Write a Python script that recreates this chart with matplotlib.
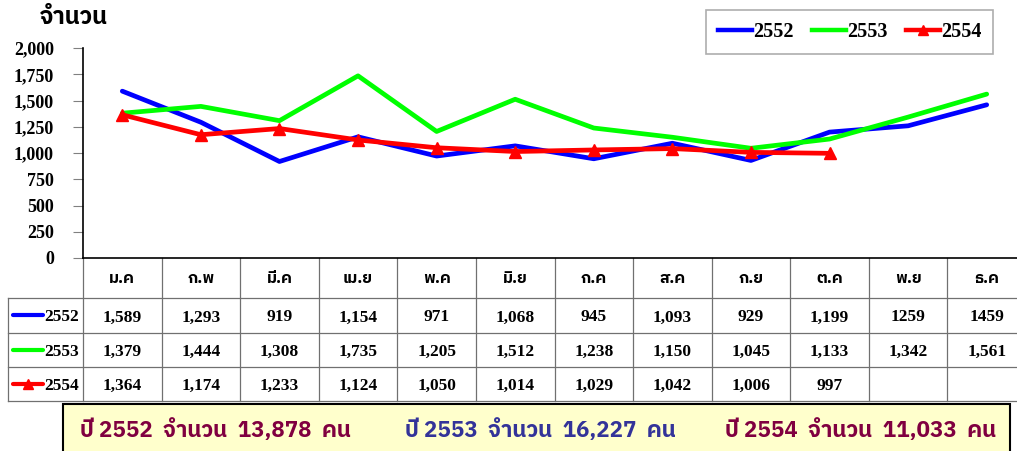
import matplotlib
matplotlib.use("Agg")
import matplotlib.pyplot as plt
import matplotlib.transforms as mtransforms
from matplotlib.lines import Line2D
from matplotlib.patches import Rectangle
from matplotlib import font_manager
from matplotlib.ft2font import FT2Font

# data
months = ['ม.ค', 'ก.พ', 'มี.ค', 'เม.ย', 'พ.ค', 'มิ.ย', 'ก.ค', 'ส.ค', 'ก.ย', 'ต.ค', 'พ.ย', 'ธ.ค']
years = ['2552', '2553', '2554']
v2552 = [1589, 1293, 919, 1154, 971, 1068, 945, 1093, 929, 1199, 1259, 1459]
v2553 = [1379, 1444, 1308, 1735, 1205, 1512, 1238, 1150, 1045, 1133, 1342, 1561]
v2554 = [1364, 1174, 1233, 1124, 1050, 1014, 1029, 1042, 1006, 997]
totals = [13878, 16227, 11033]
yticks = [0, 250, 500, 750, 1000, 1250, 1500, 1750, 2000]


# find an installed font that has Thai glyphs
def find_thai_font():
    names = []
    for f in font_manager.fontManager.ttflist:
        try:
            if 0x0E08 in FT2Font(f.fname).get_charmap():
                names.append(f.name)
        except Exception:
            pass
    for n in names:
        if 'Thai' in n:
            return n
    return names[0] if names else 'DejaVu Sans'


thai = find_thai_font()
serif = 'Liberation Serif'

series = [v2552, v2553, v2554]
colors = ['#0000FF', '#00FF00', '#FF0000']
markers = [None, None, '^']

W, H = 1017, 451
fig = plt.figure(figsize=(W / 100, H / 100), dpi=100)
# plot area: x 83..1026 px, y 48..258 px
ax = fig.add_axes([83 / W, 1 - 258 / H, 943 / W, 210 / H])

for vals, c, m in zip(series, colors, markers):
    ax.plot(range(len(vals)), vals, color=c, lw=3.4, marker=m, ms=8,
            solid_capstyle='round', clip_on=False, zorder=3)

ax.set_xlim(-0.5, 11.5)
ax.set_ylim(0, 2000)
ax.set_xticks([])
ax.set_yticks(yticks)
ax.set_yticklabels([f'{t:,}' for t in yticks], fontfamily=serif,
                   fontweight='bold', fontsize=13)
ax.tick_params(axis='y', length=7, width=0.8, color='#808080', pad=14)
for s in ['top', 'right']:
    ax.spines[s].set_visible(False)
ax.spines['left'].set_linewidth(1.2)
ax.spines['bottom'].set_linewidth(1.2)

fig.text(40 / W, 1 - 17 / H, 'จำนวน', family=[thai, serif], fontweight='bold',
         fontsize=17, va='center', ha='left')

# legend
handles = [Line2D([], [], color=c, lw=3.2, marker=m, ms=7) for c, m in zip(colors, markers)]
leg = fig.legend(handles, years, ncol=3, loc='center',
                 bbox_to_anchor=((707 + 992) / 2 / W, 1 - 32 / H),
                 prop={'family': serif, 'weight': 'bold', 'size': 14.5},
                 handlelength=1.7, handletextpad=0.05, columnspacing=0.9,
                 frameon=True, fancybox=False, borderpad=0.6)
leg.get_frame().set_edgecolor('#999999')
leg.get_frame().set_linewidth(1.2)

# data table under the plot: x in data units, y in axes fraction
tr = mtransforms.blended_transform_factory(ax.transData, ax.transAxes)
row_edges = [0, -0.1905, -0.357, -0.519, -0.681]
row_mid = [(a + b) / 2 for a, b in zip(row_edges[:-1], row_edges[1:])]
left_x = -0.5 - 75 / 78.6
line_kw = dict(color='#707070', lw=0.9, transform=tr, clip_on=False)

for i in range(13):
    ax.add_line(Line2D([i - 0.5, i - 0.5], [0, row_edges[-1]], **line_kw))
ax.add_line(Line2D([left_x, left_x], [row_edges[1], row_edges[-1]], **line_kw))
for y in row_edges[1:]:
    ax.add_line(Line2D([left_x, 11.5], [y, y], **line_kw))

for i, mname in enumerate(months):
    ax.text(i, row_mid[0], mname, transform=tr, ha='center', va='center',
            family=[thai, serif], fontweight='bold', fontsize=11.5)

for r, (vals, c, m, yr) in enumerate(zip(series, colors, markers, years)):
    ym = row_mid[r + 1]
    for i, v in enumerate(vals):
        txt = f'{v:,}'
        if r == 0 and i >= 10:
            txt = str(v)
        ax.text(i, ym, txt, transform=tr, ha='center', va='center_baseline',
                family=serif, fontweight='bold', fontsize=12.5)
    ax.add_line(Line2D([left_x + 0.06, left_x + 0.45], [ym, ym], color=c, lw=3,
                       transform=tr, clip_on=False, solid_capstyle='round'))
    if m:
        ax.plot([left_x + 0.255], [ym], marker=m, color=c, ms=7, transform=tr,
                clip_on=False)
    ax.text(left_x + 0.455, ym, yr, transform=tr, ha='left', va='center_baseline',
            family=serif, fontweight='bold', fontsize=12.5)

# summary box at the bottom
fig.add_artist(Rectangle((63 / W, -0.01), (1010 - 63) / W, (451 - 404) / H + 0.01,
                         transform=fig.transFigure, facecolor='#FFFFCC',
                         edgecolor='black', lw=1.5))
sum_colors = ['#800040', '#333399', '#800040']
sum_x = [80, 405, 725]
for x, yr, t, c in zip(sum_x, years, totals, sum_colors):
    fig.text(x / W, 1 - 430 / H, f'ปี {yr}  จำนวน  {t:,}  คน', color=c,
             family=[thai, serif], fontweight='bold', fontsize=16,
             ha='left', va='center')

fig.savefig('out.png', dpi=100)
